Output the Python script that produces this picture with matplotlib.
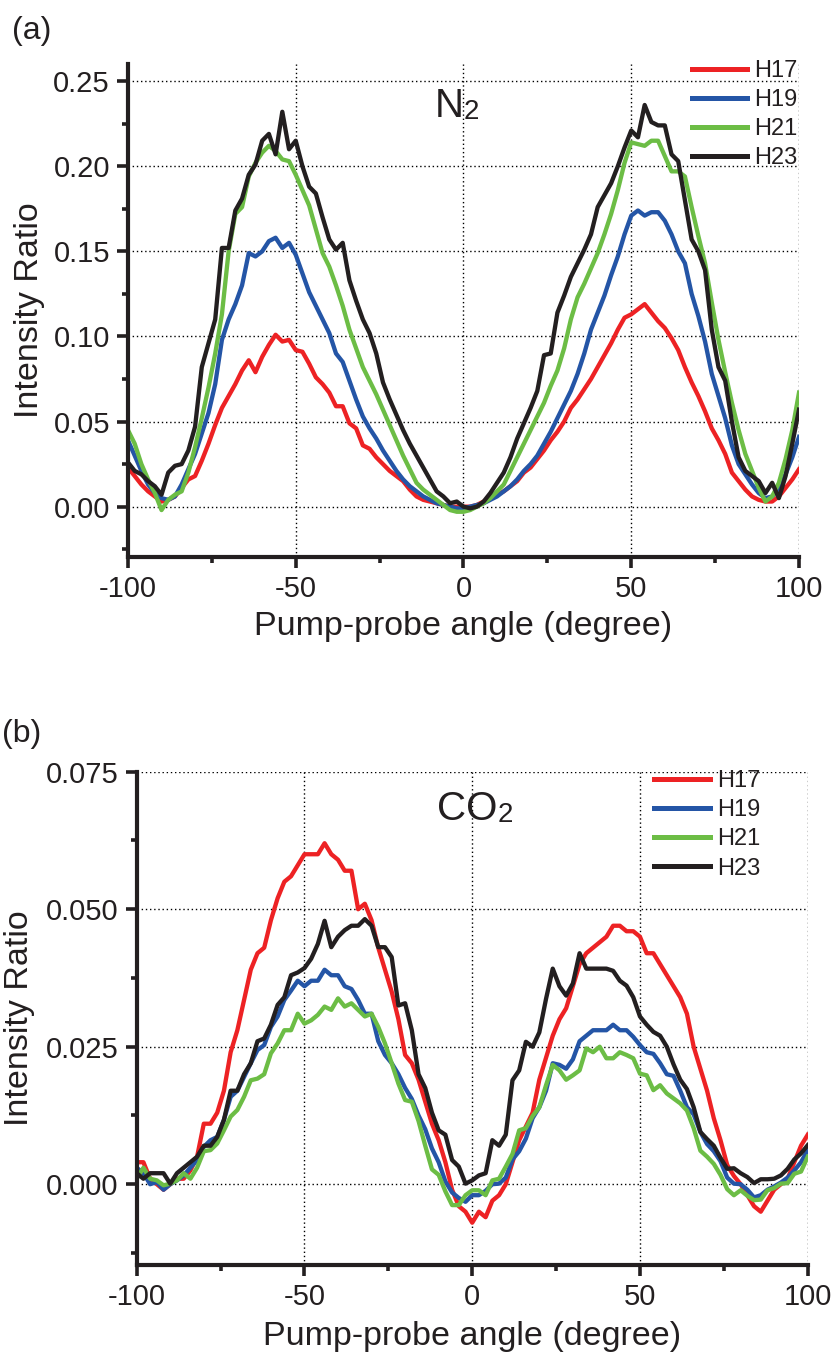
import matplotlib
matplotlib.use('Agg')
import matplotlib.pyplot as plt
from matplotlib.ticker import MultipleLocator, FormatStrFormatter

plt.rcParams['font.family'] = ['Liberation Sans', 'DejaVu Sans']
plt.rcParams['axes.unicode_minus'] = False

# pump-probe angle grid (degree)
angles = list(range(-100, 101, 2))
harmonics = ['H17', 'H19', 'H21', 'H23']
colors = ['#ed2224', '#2455a6', '#6cbd45', '#231f20']

# (a) N2 intensity ratio
n2_h17 = [0.023, 0.018, 0.013, 0.009, 0.006, 0.003, 0.004, 0.006, 0.011, 0.016,
          0.018, 0.027, 0.037, 0.048, 0.058, 0.065, 0.072, 0.080, 0.086, 0.079,
          0.088, 0.095, 0.101, 0.097, 0.098, 0.092, 0.091, 0.084, 0.076, 0.072,
          0.067, 0.059, 0.059, 0.049, 0.046, 0.036, 0.034, 0.029, 0.025, 0.021,
          0.018, 0.015, 0.010, 0.006, 0.004, 0.003, 0.002, 0.001, 0.000, 0.000,
          0.000,
          0.000, 0.001, 0.003, 0.005, 0.007, 0.009, 0.012, 0.015, 0.020, 0.023,
          0.028, 0.033, 0.039, 0.044, 0.050, 0.058, 0.063, 0.069, 0.075, 0.082,
          0.089, 0.096, 0.104, 0.111, 0.113, 0.116, 0.119, 0.114, 0.109, 0.105,
          0.099, 0.092, 0.082, 0.073, 0.065, 0.056, 0.046, 0.039, 0.031, 0.020,
          0.015, 0.010, 0.006, 0.004, 0.003, 0.003, 0.006, 0.011, 0.016, 0.022]
n2_h19 = [0.039, 0.030, 0.021, 0.013, 0.008, 0.005, 0.004, 0.006, 0.013, 0.022,
          0.031, 0.043, 0.055, 0.072, 0.098, 0.110, 0.119, 0.130, 0.149, 0.147,
          0.150, 0.156, 0.158, 0.152, 0.155, 0.148, 0.137, 0.126, 0.118, 0.110,
          0.102, 0.090, 0.085, 0.074, 0.063, 0.053, 0.046, 0.040, 0.033, 0.027,
          0.021, 0.016, 0.012, 0.009, 0.006, 0.004, 0.002, 0.001, 0.000, -0.001,
          -0.001,
          0.000, 0.001, 0.002, 0.004, 0.006, 0.009, 0.012, 0.016, 0.021, 0.025,
          0.030, 0.037, 0.044, 0.052, 0.060, 0.068, 0.078, 0.090, 0.104, 0.114,
          0.124, 0.136, 0.147, 0.160, 0.171, 0.174, 0.171, 0.173, 0.173, 0.168,
          0.160, 0.150, 0.143, 0.125, 0.112, 0.097, 0.078, 0.065, 0.052, 0.036,
          0.025, 0.019, 0.013, 0.008, 0.005, 0.006, 0.011, 0.019, 0.029, 0.041]
n2_h21 = [0.045, 0.037, 0.025, 0.016, 0.008, -0.002, 0.004, 0.007, 0.009, 0.020,
          0.035, 0.052, 0.070, 0.090, 0.113, 0.150, 0.172, 0.176, 0.194, 0.202,
          0.208, 0.212, 0.209, 0.204, 0.203, 0.195, 0.186, 0.177, 0.163, 0.149,
          0.141, 0.130, 0.118, 0.104, 0.093, 0.082, 0.074, 0.066, 0.057, 0.048,
          0.039, 0.030, 0.022, 0.014, 0.010, 0.007, 0.004, 0.001, -0.002, -0.003,
          -0.003,
          -0.002, 0.000, 0.002, 0.005, 0.009, 0.013, 0.021, 0.029, 0.037, 0.045,
          0.053, 0.061, 0.071, 0.080, 0.093, 0.110, 0.123, 0.131, 0.140, 0.149,
          0.160, 0.172, 0.186, 0.202, 0.214, 0.213, 0.212, 0.215, 0.215, 0.206,
          0.197, 0.197, 0.194, 0.176, 0.159, 0.143, 0.120, 0.098, 0.079, 0.061,
          0.045, 0.031, 0.021, 0.011, 0.003, 0.006, 0.014, 0.028, 0.045, 0.067]
n2_h23 = [0.026, 0.021, 0.019, 0.015, 0.012, 0.007, 0.020, 0.024, 0.025, 0.033,
          0.047, 0.082, 0.096, 0.110, 0.152, 0.152, 0.174, 0.181, 0.195, 0.201,
          0.215, 0.219, 0.207, 0.232, 0.210, 0.215, 0.200, 0.188, 0.184, 0.170,
          0.157, 0.151, 0.155, 0.133, 0.121, 0.110, 0.102, 0.090, 0.073, 0.063,
          0.054, 0.045, 0.037, 0.030, 0.023, 0.016, 0.009, 0.006, 0.002, 0.003,
          0.000,
          -0.001, 0.000, 0.003, 0.008, 0.014, 0.020, 0.029, 0.040, 0.049, 0.058,
          0.068, 0.089, 0.090, 0.114, 0.124, 0.135, 0.143, 0.151, 0.160, 0.176,
          0.183, 0.190, 0.200, 0.211, 0.221, 0.217, 0.236, 0.226, 0.224, 0.224,
          0.207, 0.203, 0.180, 0.157, 0.150, 0.139, 0.104, 0.082, 0.074, 0.050,
          0.029, 0.021, 0.018, 0.015, 0.008, 0.014, 0.005, 0.018, 0.037, 0.057]

# (b) CO2 intensity ratio
co2_h17 = [0.0040, 0.0040, 0.0010, 0.0000, -0.0010, 0.0000, 0.0010, 0.0010, 0.0025, 0.0050,
           0.0110, 0.0110, 0.0130, 0.0170, 0.0240, 0.0280, 0.0335, 0.0390, 0.0420, 0.0430,
           0.0480, 0.0520, 0.0550, 0.0560, 0.0580, 0.0600, 0.0600, 0.0600, 0.0620, 0.0600,
           0.0590, 0.0570, 0.0570, 0.0500, 0.0510, 0.0480, 0.0430, 0.0390, 0.0350, 0.0300,
           0.0235, 0.0220, 0.0190, 0.0150, 0.0110, 0.0080, 0.0040, -0.0010, -0.0040, -0.0050,
           -0.0070,
           -0.0050, -0.0060, -0.0030, -0.0020, 0.0000, 0.0040, 0.0080, 0.0105, 0.0130, 0.0190,
           0.0230, 0.0270, 0.0300, 0.0320, 0.0360, 0.0400, 0.0420, 0.0430, 0.0440, 0.0450,
           0.0470, 0.0470, 0.0460, 0.0460, 0.0450, 0.0420, 0.0420, 0.0400, 0.0380, 0.0360,
           0.0340, 0.0310, 0.0250, 0.0210, 0.0170, 0.0120, 0.0080, 0.0035, 0.0015, 0.0000,
           -0.0020, -0.0040, -0.0050, -0.0030, -0.0010, 0.0000, 0.0010, 0.0040, 0.0070, 0.0090]
co2_h19 = [0.0030, 0.0020, 0.0000, 0.0004, -0.0010, 0.0000, 0.0007, 0.0016, 0.0030, 0.0044,
           0.0068, 0.0080, 0.0086, 0.0117, 0.0159, 0.0170, 0.0195, 0.0220, 0.0244, 0.0253,
           0.0286, 0.0305, 0.0335, 0.0352, 0.0370, 0.0360, 0.0370, 0.0370, 0.0390, 0.0380,
           0.0380, 0.0360, 0.0355, 0.0335, 0.0310, 0.0310, 0.0260, 0.0235, 0.0220, 0.0200,
           0.0175, 0.0155, 0.0125, 0.0100, 0.0065, 0.0040, 0.0005, -0.0015, -0.0025, -0.0032,
           -0.0020,
           -0.0020, -0.0012, 0.0000, 0.0001, 0.0012, 0.0045, 0.0060, 0.0083, 0.0120, 0.0140,
           0.0170, 0.0220, 0.0217, 0.0210, 0.0227, 0.0260, 0.0270, 0.0280, 0.0280, 0.0280,
           0.0290, 0.0280, 0.0280, 0.0268, 0.0253, 0.0240, 0.0237, 0.0220, 0.0200, 0.0197,
           0.0170, 0.0140, 0.0127, 0.0095, 0.0073, 0.0060, 0.0042, 0.0012, 0.0001, 0.0000,
           -0.0010, -0.0024, -0.0020, -0.0010, -0.0004, 0.0003, 0.0012, 0.0025, 0.0040, 0.0062]
co2_h21 = [0.0010, 0.0030, 0.0010, 0.0007, -0.0002, 0.0001, 0.0007, 0.0020, 0.0010, 0.0030,
           0.0060, 0.0062, 0.0074, 0.0098, 0.0123, 0.0135, 0.0159, 0.0189, 0.0192, 0.0200,
           0.0238, 0.0256, 0.0280, 0.0280, 0.0310, 0.0292, 0.0298, 0.0308, 0.0323, 0.0317,
           0.0338, 0.0323, 0.0329, 0.0317, 0.0305, 0.0310, 0.0286, 0.0256, 0.0220, 0.0183,
           0.0153, 0.0150, 0.0115, 0.0070, 0.0027, 0.0017, -0.0013, -0.0038, -0.0038, -0.0020,
           -0.0011,
           -0.0011, -0.0020, 0.0007, 0.0010, 0.0032, 0.0055, 0.0098, 0.0102, 0.0124, 0.0140,
           0.0180, 0.0217, 0.0207, 0.0190, 0.0198, 0.0207, 0.0247, 0.0240, 0.0250, 0.0229,
           0.0229, 0.0240, 0.0235, 0.0229, 0.0201, 0.0198, 0.0171, 0.0180, 0.0165, 0.0156,
           0.0147, 0.0134, 0.0102, 0.0061, 0.0050, 0.0037, 0.0017, -0.0009, -0.0020, -0.0011,
           -0.0021, -0.0029, -0.0028, -0.0011, -0.0007, 0.0001, 0.0002, 0.0019, 0.0023, 0.0050]
co2_h23 = [0.0020, 0.0010, 0.0020, 0.0020, 0.0020, 0.0001, 0.0020, 0.0030, 0.0040, 0.0050,
           0.0070, 0.0070, 0.0086, 0.0117, 0.0170, 0.0170, 0.0200, 0.0220, 0.0260, 0.0265,
           0.0290, 0.0326, 0.0340, 0.0380, 0.0385, 0.0393, 0.0410, 0.0437, 0.0479, 0.0431,
           0.0450, 0.0462, 0.0470, 0.0470, 0.0482, 0.0470, 0.0431, 0.0431, 0.0413, 0.0325,
           0.0329, 0.0280, 0.0200, 0.0175, 0.0130, 0.0098, 0.0090, 0.0044, 0.0032, 0.0001,
           0.0007,
           0.0016, 0.0020, 0.0080, 0.0070, 0.0090, 0.0189, 0.0207, 0.0259, 0.0250, 0.0276,
           0.0337, 0.0392, 0.0360, 0.0343, 0.0365, 0.0420, 0.0392, 0.0392, 0.0392, 0.0392,
           0.0388, 0.0370, 0.0361, 0.0340, 0.0305, 0.0290, 0.0277, 0.0270, 0.0250, 0.0218,
           0.0190, 0.0173, 0.0140, 0.0095, 0.0082, 0.0070, 0.0048, 0.0028, 0.0029, 0.0020,
           0.0013, 0.0002, 0.0009, 0.0009, 0.0010, 0.0016, 0.0028, 0.0045, 0.0056, 0.0071]

ink = '#231f20'


def style_axes(ax, ylim, ymajor, yminor, yfmt):
    ax.set_xlim(-100, 100)
    ax.set_ylim(*ylim)
    ax.xaxis.set_major_locator(MultipleLocator(50))
    ax.xaxis.set_minor_locator(MultipleLocator(25))
    ax.yaxis.set_major_locator(MultipleLocator(ymajor))
    ax.yaxis.set_minor_locator(MultipleLocator(yminor))
    ax.yaxis.set_major_formatter(FormatStrFormatter(yfmt))
    for s in ['top', 'right']:
        ax.spines[s].set_visible(False)
    for s in ['left', 'bottom']:
        ax.spines[s].set_linewidth(3.0)
        ax.spines[s].set_color(ink)
    ax.tick_params(which='major', direction='out', length=8, width=2.6,
                   labelsize=21, pad=5, color=ink, labelcolor=ink)
    ax.tick_params(which='minor', direction='out', length=4.5, width=2.6, color=ink)
    ax.grid(True, which='major', linestyle=(0, (1, 2)), color='k', linewidth=1.0)
    for t in ax.xaxis.get_major_ticks():
        if abs(t.get_loc()) >= 100:
            t.gridline.set_visible(False)
    ax.set_axisbelow(True)
    ax.set_xlabel('Pump-probe angle (degree)', fontsize=24.5, color=ink)
    ax.set_ylabel('Intensity Ratio', fontsize=24.5, color=ink)


def chem_label(ax, x, y, main, sub):
    t = ax.text(x, y, main, fontsize=29, color=ink, va='baseline', ha='left')
    ax.annotate(sub, xy=(1, 0), xycoords=t, fontsize=20, color=ink,
                va='bottom', ha='left')


fig = plt.figure(figsize=(8.31, 13.53), dpi=100)

# ---- (a) N2
ax1 = fig.add_axes([0.154, 0.5883, 0.8075, 0.3643])
for vals, lab, c in zip([n2_h17, n2_h19, n2_h21, n2_h23], harmonics, colors):
    ax1.plot(angles, vals, '-', color=c, lw=3.1, label=lab)
style_axes(ax1, (-0.0296, 0.26), 0.05, 0.025, '%.2f')
ax1.xaxis.set_label_coords(0.5, -0.109)
ax1.yaxis.set_label_coords(-0.124, 0.5)
leg = ax1.legend(loc='upper left', bbox_to_anchor=(0.8405, 1.008), frameon=False,
                 borderpad=0, borderaxespad=0, handlelength=2.35, handletextpad=0.3,
                 labelspacing=0.3, fontsize=17, labelcolor=ink)
for h in leg.get_lines():
    h.set_linewidth(3.6)
chem_label(ax1, -8.5, 0.229, 'N', '2')

# ---- (b) CO2
ax2 = fig.add_axes([0.1645, 0.065, 0.8075, 0.3646])
for vals, lab, c in zip([co2_h17, co2_h19, co2_h21, co2_h23], harmonics, colors):
    ax2.plot(angles, vals, '-', color=c, lw=3.1, label=lab)
style_axes(ax2, (-0.0147, 0.075), 0.025, 0.0125, '%.3f')
for t in ax2.yaxis.get_major_ticks():
    if t.get_loc() >= 0.07:
        t.gridline.set_visible(False)
ax2.xaxis.set_label_coords(0.5, -0.114)
ax2.yaxis.set_label_coords(-0.152, 0.5)
leg = ax2.legend(loc='upper left', bbox_to_anchor=(0.771, 1.003), frameon=False,
                 borderpad=0, borderaxespad=0, handlelength=2.35, handletextpad=0.3,
                 labelspacing=0.3, fontsize=17, labelcolor=ink)
for h in leg.get_lines():
    h.set_linewidth(3.6)
chem_label(ax2, -10.5, 0.0663, 'CO', '2')

fig.text(0.014, 1 - 31 / 1353, '(a)', fontsize=23, color=ink, va='center', ha='left')
fig.text(0.002, 1 - 734 / 1353, '(b)', fontsize=23, color=ink, va='center', ha='left')

fig.savefig('out.png', dpi=100)
